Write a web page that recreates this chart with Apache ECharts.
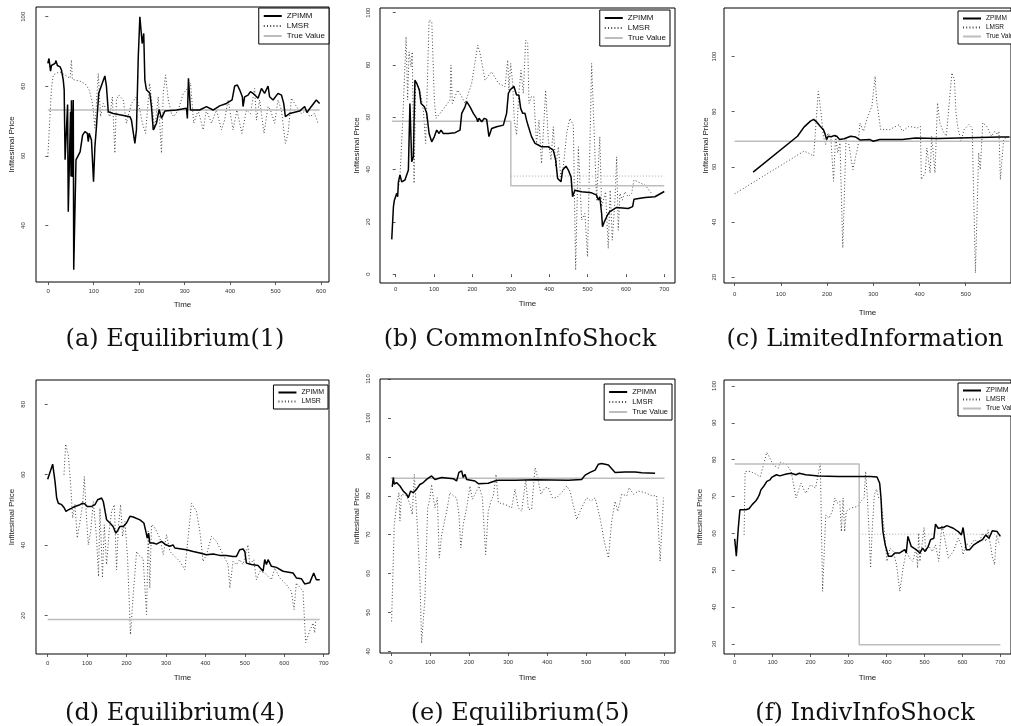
<!DOCTYPE html>
<html>
<head>
<meta charset="utf-8">
<script src="https://cdn.jsdelivr.net/npm/echarts@6.0.0/dist/echarts.min.js"></script>
<style>
html, body { margin: 0; padding: 0; background: #fff; }
#chart { width: 1011px; height: 726px; }
</style>
</head>
<body>
<div id="chart"></div>
<script>
// traces, each point is [time, price]

// (a) Equilibrium(1)
let zpimm_a = [[-1,86.6],[1.5,88],[5,84.4],[7,86],[15,86.6],[17,87.4],[20,86],[26,85.6],[29,84.7],[33,81.8],[35,79],[37,58.9],[42.5,74.8],[44,44],[49,72.7],[50,54.1],[51,76],[53,54],[55,76.1],[56,27.3],[61,58.9],[70,61.2],[75.5,66],[80.6,67],[86,66.5],[88,64.1],[90,66.5],[95,64.6],[99.6,52.6],[102.6,62.7],[106,68.4],[111,78],[116,79.9],[124.5,83],[128,80],[132,72.7],[135.5,73.2],[143,72.2],[179.5,71.3],[183,70.3],[190.5,63.6],[194,67.5],[198,88.5],[201.5,100],[206.6,92.3],[210,95.2],[212.5,81.8],[216,79],[223.4,78],[227,74.2],[231,67.5],[238,69.4],[244,73.4],[249,70.8],[256.4,72.9],[282,73.2],[304,73.7],[306,70.8],[308.4,82.3],[312.8,73.2],[333,73.2],[348,74.2],[362.6,73.2],[377,74.4],[392,75.1],[404.4,76.1],[410,80.1],[416,80.4],[421,79],[427,77],[428.5,74.2],[432,77],[439.5,77.5],[444.7,78.5],[450.5,78],[461.5,76.6],[469,79.4],[476,78],[483.5,80.1],[487,77],[494.5,76.1],[505.5,78],[513,77.5],[518,75.1],[521.6,71.3],[531,72.2],[553,72.9],[564,74.2],[569,72.5],[578.7,74.2],[589.7,76.1],[597,75.1]];
let lmsr_a = [[-1,59.8],[7,79.4],[11,83.3],[25,84.2],[40,83],[48,82.3],[51,87.6],[53,82],[70,81.5],[82,80.6],[90,79],[96,76],[99,73.2],[102.6,68],[110,83.7],[115,71.3],[121,75.1],[128,73.2],[135.5,71.3],[141,77],[146.5,60.8],[150,76.1],[155,77.5],[165,76.1],[172,69.4],[183,75.1],[194,77],[201.5,73.2],[207,69.4],[214,66.5],[223,80.9],[229,74.2],[234,67.5],[242,77],[249,60.8],[253,78],[258,83.3],[264,76.1],[271,72.2],[276,71.3],[286,73.2],[297,78],[304,79],[313,80.9],[320,69.4],[329.7,73.2],[340.7,67.5],[348,73.2],[359,69.4],[370,73.2],[381,67.5],[388,70.3],[395.6,76.1],[406.6,67.5],[415,73.2],[426,66.5],[436,73.2],[444.7,72.2],[454,79.4],[458,70.3],[465,76.1],[474.7,66.5],[483.5,74.2],[489,73.2],[498,69.4],[505.5,76.1],[513,73.2],[521.6,63.6],[527.5,66.5],[535,76.6],[546,74.2],[557,72.2],[568,73.2],[575,71.3],[586,72.2],[593.4,69.4]];
let true_a = [[-1,73.2],[597,73.2]];

// (b) CommonInfoShock
let zpimm_b = [[-10.4,13.3],[-6,25.8],[-3.5,28.3],[0,27.7],[2.6,30.9],[5,29.6],[7,35.3],[11,37.9],[15.6,35.3],[24,36],[33,39.8],[37,65.3],[41.7,43],[46,44.9],[50,74.2],[54.7,73],[61.6,70.4],[66,65.3],[74.7,64],[80.8,61.5],[87,53.8],[93.8,50.6],[100.7,52.6],[106.8,55.1],[113,53.8],[118,55.1],[124,53.8],[137,53.8],[154.6,54.1],[167.6,55.1],[172,61.5],[180.6,64],[185,66],[193.7,64],[202.4,61.5],[211,59.6],[213.7,58.3],[217,59.6],[224,58.3],[231,59.6],[237,59.2],[243,52.6],[250,55.7],[263,56.4],[280.5,57],[289,61.5],[293.6,69.1],[298,70.4],[302,69.8],[308,71.9],[315,68.5],[321,68.5],[325.7,63.4],[331,61.5],[337,61.5],[341,58.9],[346,56.4],[354,52.6],[363,50],[371.7,49.4],[380,48.7],[397.8,48.7],[410.8,47.4],[417,43.6],[422,36.6],[430.8,35.3],[435,39.8],[443.8,41.3],[450,39.8],[457,37.2],[461,29.6],[467,32.1],[484.6,31.5],[510.7,31.1],[523.7,30.2],[528,28.3],[532,29.6],[536.7,23.2],[539,18.1],[543.7,20],[552,22.6],[558,23.9],[564.5,24.5],[576,25.5],[606,25.1],[617.5,25.8],[621,28.6],[650,29.3],[675.7,29.6],[700,31.6]];
let lmsr_b = [[7,32.8],[11,37],[18,58],[27,90.8],[31,66.6],[34.7,85],[40,79.3],[43,85],[47.8,34.7],[52,73.6],[59,71.7],[66,67.9],[72,62.8],[78,50],[87,97.2],[94,96.6],[100.7,66.6],[105,59.6],[115.5,61.5],[128.5,64],[141.6,66.6],[144,80],[147.6,65.3],[161.5,70.4],[172,67.9],[180.6,65.3],[198,73],[213.7,87.6],[220,84.4],[232.8,74.2],[250,77.4],[267.5,73],[285,71.7],[289,78],[292,81.9],[295,70.4],[299.6,80.6],[305,73],[309,58.9],[315,53.2],[321,69.1],[326.6,78],[332.6,69.1],[338.7,89.5],[344,88.3],[347.4,65.3],[354,67.9],[360,67.9],[367,50],[373.5,58.9],[380,42.3],[384.7,53.8],[390.8,70.4],[397.8,51.3],[404.7,43.6],[410.8,56.4],[417,41.1],[424,48.7],[430,37.2],[437,41.1],[445.6,53.8],[454,59.6],[463,57],[469,1.5],[476,48.7],[484.6,20.7],[493,23.2],[500,6.6],[510.7,80.6],[523.7,28.3],[532,52.6],[536.7,25.8],[547,31.5],[554,9.8],[559,32.1],[564.5,13],[571.5,28.3],[576,44.9],[580,16.8],[584.5,30.9],[590.6,28.3],[597.5,31.5],[606,29.6],[615,30.9],[621,36],[650,34],[667,30.9]];
let true_b = [[-10,58.5],[300,58.5],[300,33.8],[700,33.8]];
let shift_b = [[300,37.5],[700,37.5]];

// (c) LimitedInformation
let zpimm_c = [[40,58.1],[136,71.1],[150,74.4],[164,76.6],[171,77.2],[178,76.2],[185,74.7],[192,73.5],[195,72.3],[199,69.9],[202.4,71.1],[209,70.9],[216,71.4],[221,71.1],[227,69.9],[237,70.2],[251,71.1],[262,70.8],[272,69.7],[293,69.9],[300,69.3],[314,69.9],[363,69.9],[391,70.5],[440,70.3],[573.5,70.8],[595,70.8]];
let lmsr_c = [[0,50.2],[150,65.7],[159,65.1],[171,63.9],[181,87.4],[187,79.6],[192,71.1],[197,68.1],[202,72.3],[208,71.1],[214,54.8],[218.5,71.7],[223,65.1],[228,68.7],[234,30.6],[241,69.9],[246.5,68.7],[251,63.9],[256,59],[262,63.9],[267,67.5],[271,75.9],[279,72.9],[286,77.2],[297,82],[304,92.9],[307,84.4],[316,73.5],[335,73.5],[356,75.3],[363,72.9],[377,74.7],[395,74.1],[402,74.7],[404,55.4],[412.5,57.8],[416,66.9],[423,57.8],[426.5,71.1],[433.5,57.8],[439,83.2],[444,76],[451,72.9],[458,71.1],[465,84.4],[470,94.1],[475.5,91.7],[479,79.6],[482.5,74.7],[489.5,69.3],[496.5,73.5],[507,75.3],[514,74.1],[517.5,74.7],[521,21.6],[528,65.1],[531.5,59],[537,76],[545.5,74.7],[556,71.1],[563,72.9],[568.6,71.7],[572,72.9],[575,55.4],[582,70],[592,71]];
let true_c = [[0,69.3],[595,69.3]];

// (d) Equilibrium(4)
let zpimm_d = [[0,58.7],[12.7,63],[18.6,58.1],[22.8,53.4],[27,51.9],[35.5,51.5],[41.4,50.7],[46.4,49.6],[52.4,50],[61,50.5],[69,51],[82,51.5],[88.7,51.9],[94.6,51.7],[100.5,51],[111.5,51],[120,51.5],[126.7,52.9],[136.8,53.4],[141,52.4],[145,50],[149.5,47.2],[158,46.3],[166,45.3],[173,43.4],[179,44.4],[183,45.3],[191.7,45.3],[200,46.3],[208.6,48.2],[217,48],[234,47.2],[244,46.3],[249,43.9],[252.5,42],[256,43.4],[259,40.6],[267.7,40.6],[276,40.3],[288.8,41.1],[299.8,40.1],[310,39.7],[318,40.1],[322.5,39.2],[335,39],[352,38.7],[369,38.2],[386,37.8],[402.8,37.3],[419.6,37.5],[436.5,37.1],[453,37.1],[470,36.8],[478.8,36.8],[487,38.7],[495.6,38.9],[500,38.2],[504,34.9],[516.8,34.5],[533.6,34.2],[546.3,32.6],[550.5,35.9],[554.8,34.5],[559,35.9],[567.4,34],[580,33.7],[597,32.6],[622.3,32.1],[630.7,30.7],[643.4,30.5],[651.8,29],[664.5,29.3],[674.7,32.1],[681.4,30.2],[685.6,30.7],[690,30.2]];
let lmsr_d = [[41.4,60],[45.6,68.7],[52.4,65.6],[58.3,57.1],[63.3,47.7],[69.2,51.5],[75,42],[82,46.7],[88.7,51.5],[93,59.5],[97,50.5],[103,40.1],[109,43.9],[115.7,52.4],[124,42],[129,31.1],[132.6,50.5],[139,30.7],[143.5,45.8],[149.5,34.5],[156,43.9],[162,49.6],[169,51.5],[174.8,33],[179,44.9],[185,51.5],[190,42.5],[196,46.7],[202.6,36.3],[210,14.6],[217,26],[225.5,38.2],[234,36.8],[242,36.3],[250.8,20.3],[255,43.9],[259,27.8],[263.4,45.8],[270,45.3],[284.6,42],[293,37.3],[301.4,43],[310,38.2],[322.5,36.8],[335,35.4],[348,33],[356,42],[364.8,51.9],[377.4,49.6],[386,43.9],[394,35.4],[402.8,37.3],[415.4,42.5],[428,41.1],[440.8,38.2],[457.6,34.5],[462,27.8],[470,35.4],[478.8,34.5],[487,35.9],[495.6,34.5],[508,40.1],[512.5,34.5],[522.7,35.9],[529.4,30.2],[538,32.6],[550.5,32.1],[567.4,30.2],[576,33.5],[588.5,30.7],[605.4,28.8],[618,26.9],[624.8,21.7],[630.7,29.3],[647.6,26.9],[654.3,12.3],[664.5,15.6],[673,17.9],[677,15.1],[679.7,18.4]];
let true_d = [[0,18.9],[690,18.9]];

// (e) Equilibrium(5)
let zpimm_e = [[3.4,82.3],[6,84.7],[8.5,83],[14.5,83.4],[23,82.5],[31.6,81.2],[40,80.4],[44.4,79.5],[50.4,81.2],[57,80.8],[65.7,81.7],[74,82.9],[82.8,83.4],[91.3,84.2],[104,85.1],[112.7,84.2],[130,84.7],[159.6,84.4],[168,83.8],[174,86],[181,86.4],[185,84.7],[189.5,85.5],[193.8,84.2],[198,83.8],[215,83.8],[223.7,83.1],[249,83.2],[266,83.8],[275,84],[317.6,84],[368.8,84.1],[454,84],[488,84.2],[497,85.3],[509.6,86],[522.5,86.6],[531,88.1],[539.5,88.3],[556.6,87.9],[573.7,86],[599,86.1],[624.9,86.1],[642,85.9],[676,85.8]];
let lmsr_e = [[1.7,47.7],[8.5,72.6],[14.5,77.8],[20.5,80.8],[23,73.5],[27,80.4],[40,80],[48.7,77.8],[54.6,75.2],[59.8,85.5],[64,85.9],[68.3,71],[74.3,58],[78.5,42.1],[87,53.7],[94,76.9],[100,79.5],[104,82.9],[108.4,79.5],[112.7,76.9],[118.7,79.5],[123.8,64],[129.8,70],[142.6,76],[151,80.8],[159.6,80],[168,79.5],[174,75.2],[179,66.6],[185,72.6],[193.8,76.9],[202.3,82.5],[208.3,79.1],[215,80.4],[225.4,82.5],[234,79.5],[242.4,64.9],[249,76],[256,78.6],[262,80],[269,85.5],[275,78.2],[292,77.8],[309,76.9],[317.6,81.7],[326,76.9],[334.6,76],[345,84.2],[351.7,76.5],[360,76.5],[368.8,87.2],[375.6,84.7],[384,80.4],[394.4,82.1],[403,82.1],[413,79.5],[424,79.5],[437,80.8],[450,82.5],[458.4,81.2],[464.4,78.6],[475.5,73.9],[484,76],[492.6,77.8],[501,79.5],[512,78.6],[522.5,79.5],[535,74.4],[546,68.3],[556.6,64],[565,73.5],[573.7,78.6],[580.5,76],[590.7,80.4],[603.5,80],[609.5,82.1],[620.6,80.4],[633.4,81.2],[650.5,80.8],[667.6,80],[680,80],[689,63.2],[697.5,79.5]];
let true_e = [[0,84.5],[700,84.5]];

// (f) IndivInfoShock
let zpimm_f = [[0,58.5],[4.3,53.8],[9.4,61.4],[13.7,66.4],[20.5,66.4],[29,66.4],[37.6,66.7],[46,67.8],[54.7,68.7],[60.7,69.6],[65,70.5],[69,71.8],[76,72.7],[84.6,74.1],[93,74.5],[97.4,75.2],[101.7,75.4],[110,75.9],[118.8,75.6],[136,76.1],[148.7,76.3],[161.5,75.9],[170,76.3],[187,75.9],[221,75.6],[272.6,75.4],[324,75.4],[358,75.4],[375,75.3],[382,73.6],[385.5,69.6],[388,64.1],[390.6,60.5],[396.6,56.9],[405,53.8],[413.7,53.8],[422,54.7],[435,54.7],[448,55.6],[452,54.7],[456.4,59.2],[465,56.5],[478,55.6],[488,54.7],[495,56],[501.7,55.1],[510,56.5],[516,58.3],[524.8,58.7],[529,62.5],[536,61.4],[550,61.6],[559,62.1],[576,61.4],[589,60.5],[597.4,59.6],[601.7,61.6],[610,55.6],[618.8,55.6],[630,56.9],[640,57.6],[653,58.3],[661.5,59.6],[670,58.7],[678.6,60.7],[691.5,60.5],[700,59.2]];
let lmsr_f = [[24.8,59.6],[27.4,76.8],[42,76.8],[67.5,75.4],[84.6,82],[101.7,78.6],[114.5,77.7],[120.5,79.3],[136,78.8],[148.7,76.8],[161.5,69.6],[174.4,73.6],[187,70.9],[200,73.2],[213,72.3],[225.6,79],[231.6,44.3],[240,65],[248.7,64.1],[257,66],[264,69.6],[270,68.2],[277,68.7],[281,60.5],[285.5,69.6],[289.7,60.5],[294,66],[307,66.9],[324,67.3],[332.5,68.7],[341,69.6],[345,76.8],[349.6,69.6],[354,60.5],[358,50.6],[362,60.5],[368,70.5],[373.5,72],[379.5,69.6],[385.5,69.1],[392,63.2],[401,52.4],[409.4,56],[418,55.1],[426.5,51.5],[435,44.3],[443.6,50.6],[452,55.1],[460.7,53.3],[469,52.4],[478,56],[482,50.6],[484.6,60.1],[488,52.4],[499,61.6],[503.4,55.1],[512,56.5],[520.5,55.1],[529,56.9],[537.6,52.4],[546,62.3],[554.7,57.8],[563,53.3],[576,55.1],[589,58.7],[597.4,56.9],[601.7,54.2],[610,57.4],[619,56.5],[631.6,58.3],[644.4,57.4],[653,60.1],[661.5,57.8],[667.5,61],[678.6,53.8],[684.6,51.5],[690,59.6],[698,56.9]];
let true_f = [[0,78.8],[328,78.8],[328,29.8],[700,29.8]];
let shift_f = [[328,59.8],[700,59.8]];

// axis ticks
let xticks_a = [0, 100, 200, 300, 400, 500, 600];
let xticks_700 = [0, 100, 200, 300, 400, 500, 600, 700];
let xticks_c = [0, 100, 200, 300, 400, 500];
let yticks_a = [40, 60, 80, 100];
let yticks_b = [0, 20, 40, 60, 80, 100];
let yticks_c = [20, 40, 60, 80, 100];
let yticks_d = [20, 40, 60, 80];
let yticks_e = [40, 50, 60, 70, 80, 90, 100, 110];
let yticks_f = [30, 40, 50, 60, 70, 80, 90, 100];

let captions = ["(a) Equilibrium(1)", "(b) CommonInfoShock", "(c) LimitedInformation",
                "(d) Equilibrium(4)", "(e) Equilibrium(5)", "(f) IndivInfoShock"];

// one entry per sub-figure: data + where it sits on the page
let panels = [
    {zp: zpimm_a, lm: lmsr_a, tv: true_a, shift: null, xt: xticks_a, yt: yticks_a,
     box: [36, 7, 293, 275], xr: [-27, 617.6], yr: [23.8, 102.8], ym: 10, yg: 20, xm: 6, xg: 19,
     legend: {right: 682, top: 8}, legendTrue: true, fs: 8, cap: [175, 337]},
    {zp: zpimm_b, lm: lmsr_b, tv: true_b, shift: shift_b, xt: xticks_700, yt: yticks_b,
     box: [380, 8, 295, 275], xr: [-41, 728], yr: [-3.4, 101.8], ym: 9, yg: 19, xm: 3, xg: 17,
     legend: {right: 341, top: 10}, legendTrue: true, fs: 8, cap: [520, 337]},
    {zp: zpimm_c, lm: lmsr_c, tv: true_c, shift: null, xt: xticks_c, yt: yticks_c,
     box: [724, 8, 296, 275], xr: [-23, 598], yr: [17.9, 117.6], ym: 7, yg: 13, xm: 8, xg: 26,
     legend: {left: 958, top: 11}, legendTrue: true, fs: 6.5, cap: [865, 337]},
    {zp: zpimm_d, lm: lmsr_d, tv: true_d, shift: null, xt: xticks_700, yt: yticks_d,
     box: [36, 380, 293, 274], xr: [-29.6, 713.5], yr: [9.1, 86.9], ym: 10, yg: 20, xm: 6, xg: 20,
     legend: {right: 683, top: 385}, legendTrue: false, fs: 7, cap: [175, 711]},
    {zp: zpimm_e, lm: lmsr_e, tv: true_e, shift: null, xt: xticks_700, yt: yticks_e,
     box: [380, 379, 295, 274], xr: [-28, 727], yr: [39.6, 110], ym: 9, yg: 19, xm: 6, xg: 21,
     legend: {right: 339, top: 384}, legendTrue: true, fs: 7.5, cap: [520, 711]},
    {zp: zpimm_f, lm: lmsr_f, tv: true_f, shift: shift_f, xt: xticks_700, yt: yticks_f,
     box: [724, 380, 296, 274], xr: [-28.2, 728], yr: [27.3, 101.6], ym: 7, yg: 20, xm: 5, xg: 20,
     legend: {left: 958, top: 383}, legendTrue: true, fs: 7, cap: [865, 711]}
];

let sans = "Liberation Sans";

let grid = [], xAxis = [], yAxis = [], series = [], legend = [], title = [];

panels.forEach(function (p, i) {
    grid.push({
        left: p.box[0], top: p.box[1], width: p.box[2], height: p.box[3],
        show: true, borderColor: "#000", borderWidth: 1, backgroundColor: "#fff"
    });
    xAxis.push({
        type: "value", gridIndex: i, min: p.xr[0], max: p.xr[1],
        name: "Time", nameLocation: "middle", nameGap: p.xg,
        nameTextStyle: {fontFamily: sans, fontSize: 8, color: "#222"},
        axisLine: {show: false},
        axisTick: {show: true, length: 3, customValues: p.xt, lineStyle: {color: "#333", width: 0.8}},
        axisLabel: {customValues: p.xt, fontFamily: sans, fontSize: 6, color: "#333", margin: p.xm},
        splitLine: {show: false}
    });
    yAxis.push({
        type: "value", gridIndex: i, min: p.yr[0], max: p.yr[1],
        name: "Infitesimal Price", nameLocation: "middle", nameGap: p.yg,
        nameTextStyle: {fontFamily: sans, fontSize: 8, color: "#222"},
        axisLine: {show: false},
        axisTick: {show: true, length: 3, customValues: p.yt, lineStyle: {color: "#333", width: 0.8}},
        axisLabel: {customValues: p.yt, rotate: 90, fontFamily: sans, fontSize: 6, color: "#333", margin: p.ym},
        splitLine: {show: false}
    });

    series.push({
        name: "LMSR", type: "line", xAxisIndex: i, yAxisIndex: i, data: p.lm,
        symbol: "none", z: 2, itemStyle: {color: "#444"},
        lineStyle: {color: "#444", width: 1, type: [1, 2.2]}
    });
    if (p.shift) {
        series.push({
            name: "shift", type: "line", xAxisIndex: i, yAxisIndex: i, data: p.shift,
            symbol: "none", z: 2, itemStyle: {color: "#aaa"},
            lineStyle: {color: "#aaa", width: 1, type: [1, 2]}
        });
    }
    series.push({
        name: "True Value", type: "line", xAxisIndex: i, yAxisIndex: i, data: p.tv,
        symbol: "none", z: 3, itemStyle: {color: "#bdbdbd"},
        lineStyle: {color: "#bdbdbd", width: 1.5}
    });
    series.push({
        name: "ZPIMM", type: "line", xAxisIndex: i, yAxisIndex: i, data: p.zp,
        symbol: "none", z: 4, itemStyle: {color: "#000"},
        lineStyle: {color: "#000", width: 1.5}
    });

    let names = p.legendTrue ? ["ZPIMM", "LMSR", "True Value"] : ["ZPIMM", "LMSR"];
    legend.push(Object.assign({
        data: names, orient: "vertical", selectedMode: false,
        itemWidth: 18, itemHeight: 8, itemGap: 2,
        padding: [4, 4, 4, 4],
        itemStyle: {opacity: 0, borderWidth: 0},
        backgroundColor: "#fff", borderColor: "#000", borderWidth: 1,
        textStyle: {fontFamily: sans, fontSize: p.fs, color: "#111"}
    }, p.legend));

    title.push({
        text: captions[i], left: p.cap[0], top: p.cap[1] - 9, textAlign: "center", padding: 0,
        textStyle: {fontFamily: "DejaVu Serif", fontSize: 24, fontWeight: "normal", color: "#111"}
    });
});

let chart = echarts.init(document.getElementById("chart"), null, {renderer: "canvas"});
chart.setOption({
    animation: false,
    backgroundColor: "#fff",
    title: title,
    grid: grid,
    xAxis: xAxis,
    yAxis: yAxis,
    legend: legend,
    series: series
});
</script>
</body>
</html>
